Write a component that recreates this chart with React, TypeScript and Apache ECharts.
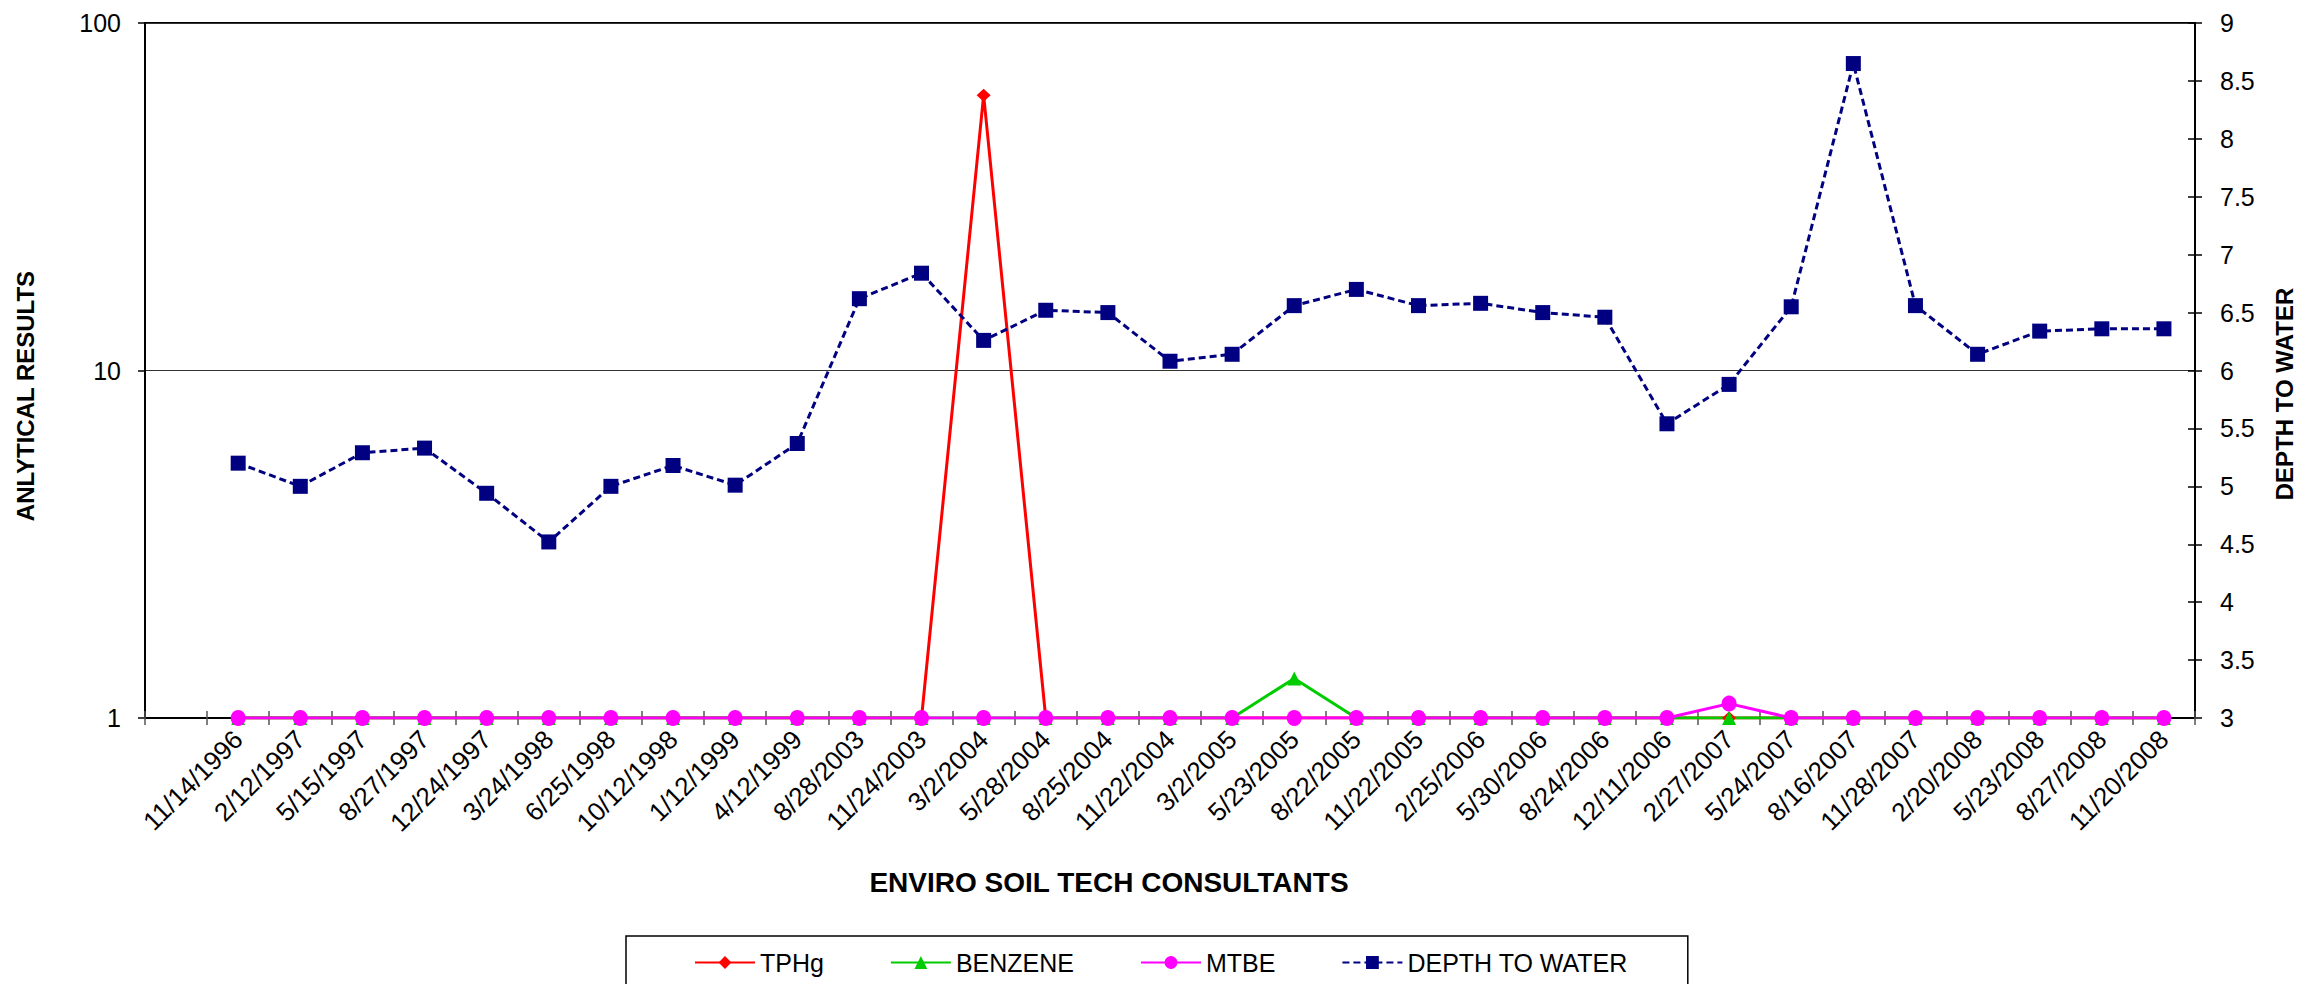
import React, { useEffect, useRef } from 'react';
import * as echarts from 'echarts';

const dates = ['', '11/14/1996', '2/12/1997', '5/15/1997', '8/27/1997', '12/24/1997', '3/24/1998', '6/25/1998', '10/12/1998', '1/12/1999', '4/12/1999', '8/28/2003', '11/24/2003', '3/2/2004', '5/28/2004', '8/25/2004', '11/22/2004', '3/2/2005', '5/23/2005', '8/22/2005', '11/22/2005', '2/25/2006', '5/30/2006', '8/24/2006', '12/11/2006', '2/27/2007', '5/24/2007', '8/16/2007', '11/28/2007', '2/20/2008', '5/23/2008', '8/27/2008', '11/20/2008'];

const tphg = [null, 1, 1, 1, 1, 1, 1, 1, 1, 1, 1, 1, 1, 62, 1, 1, 1, 1, 1, 1, 1, 1, 1, 1, 1, 1, 1, 1, 1, 1, 1, 1, 1];
const benzene = [null, 1, 1, 1, 1, 1, 1, 1, 1, 1, 1, 1, 1, 1, 1, 1, 1, 1, 1.3, 1, 1, 1, 1, 1, 1, 1, 1, 1, 1, 1, 1, 1, 1];
const mtbe = [null, 1, 1, 1, 1, 1, 1, 1, 1, 1, 1, 1, 1, 1, 1, 1, 1, 1, 1, 1, 1, 1, 1, 1, 1, 1.1, 1, 1, 1, 1, 1, 1, 1];
const depth = [null, 5.2, 5.0, 5.29, 5.33, 4.94, 4.52, 5.0, 5.18, 5.01, 5.37, 6.62, 6.84, 6.26, 6.52, 6.5, 6.08, 6.14, 6.56, 6.7, 6.56, 6.58, 6.5, 6.46, 5.54, 5.88, 6.55, 8.65, 6.56, 6.14, 6.34, 6.36, 6.36];

const FONT = "Arial, 'Liberation Sans', sans-serif";

export default function App() {
  const ref = useRef<HTMLDivElement>(null);
  useEffect(() => {
    if (!ref.current) return;
    const chart = echarts.init(ref.current, undefined, { renderer: 'svg' });
    const option: any = {
      animation: false,
      backgroundColor: '#fff',
      textStyle: { fontFamily: FONT },
      grid: {
        left: 145, right: 109, top: 23, bottom: 266,
        show: true, borderColor: '#000', borderWidth: 2, backgroundColor: 'transparent',
      },
      xAxis: [
        {
          type: 'category', data: dates, position: 'bottom', boundaryGap: true,
          axisLine: { onZero: false, lineStyle: { color: '#000', width: 2 } },
          axisTick: { show: true, inside: false, length: 7, interval: 0, lineStyle: { color: '#555', width: 1.5 } },
          axisLabel: { interval: 0, rotate: 45, margin: 17, fontSize: 26, color: '#000', fontFamily: FONT },
          splitLine: { show: false },
        },
        {
          type: 'category', data: dates, position: 'bottom', boundaryGap: true,
          axisLine: { show: false, onZero: false },
          axisTick: { show: true, inside: true, length: 7, interval: 0, lineStyle: { color: '#555', width: 1.5 } },
          axisLabel: { show: false },
          splitLine: { show: false },
        },
      ],
      yAxis: [
        {
          type: 'log', logBase: 10, min: 1, max: 100, position: 'left',
          axisLine: { show: true, lineStyle: { color: '#000', width: 2 } },
          axisTick: { show: true, inside: false, length: 7, lineStyle: { color: '#000', width: 1.5 } },
          axisLabel: { margin: 24, fontSize: 25, color: '#000', fontFamily: FONT },
          splitLine: { show: true, lineStyle: { color: '#333', width: 1.2 } },
          minorTick: { show: false }, minorSplitLine: { show: false },
        },
        {
          type: 'value', min: 3, max: 9, interval: 0.5, position: 'right',
          axisLine: { show: true, lineStyle: { color: '#000', width: 2 } },
          axisTick: { show: true, inside: false, length: 7, lineStyle: { color: '#000', width: 1.5 } },
          axisLabel: { margin: 25, fontSize: 25, color: '#000', fontFamily: FONT },
          splitLine: { show: false },
        },
        {
          type: 'value', min: 3, max: 9, interval: 0.5, position: 'right',
          axisLine: { show: false },
          axisTick: { show: true, inside: true, length: 7, lineStyle: { color: '#000', width: 1.5 } },
          axisLabel: { show: false },
          splitLine: { show: false },
        },
      ],
      legend: {
        left: 626, top: 936,
        padding: [14, 60, 40, 68],
        borderColor: '#000', borderWidth: 1.5,
        itemWidth: 60, itemHeight: 16, itemGap: 66,
        textStyle: { fontSize: 25, color: '#000', fontFamily: FONT },
        data: ['TPHg', 'BENZENE', 'MTBE', 'DEPTH TO WATER'],
      },
      series: [
        {
          name: 'TPHg', type: 'line', data: tphg, xAxisIndex: 0, yAxisIndex: 0,
          symbol: 'diamond', symbolSize: [14, 13], showAllSymbol: true,
          lineStyle: { color: '#ff0000', width: 3 }, itemStyle: { color: '#ff0000' },
        },
        {
          name: 'BENZENE', type: 'line', data: benzene, xAxisIndex: 0, yAxisIndex: 0,
          symbol: 'triangle', symbolSize: [14, 14], showAllSymbol: true,
          lineStyle: { color: '#00cc00', width: 3 }, itemStyle: { color: '#00cc00' },
        },
        {
          name: 'MTBE', type: 'line', data: mtbe, xAxisIndex: 0, yAxisIndex: 0,
          symbol: 'circle', symbolSize: [15, 16], showAllSymbol: true,
          lineStyle: { color: '#ff00ff', width: 3 }, itemStyle: { color: '#ff00ff' },
        },
        {
          name: 'DEPTH TO WATER', type: 'line', data: depth, xAxisIndex: 0, yAxisIndex: 1,
          symbol: 'rect', symbolSize: [15, 15], showAllSymbol: true,
          lineStyle: { color: '#000080', width: 3, type: [7, 4] }, itemStyle: { color: '#000080' },
        },
      ],
      graphic: [
        {
          type: 'text', x: 25, y: 396, rotation: Math.PI / 2,
          style: { text: 'ANLYTICAL RESULTS', font: `bold 24px ${FONT}`, fill: '#000', textAlign: 'center', textVerticalAlign: 'middle', align: 'center', verticalAlign: 'middle' },
        },
        {
          type: 'text', x: 2284, y: 394, rotation: Math.PI / 2,
          style: { text: 'DEPTH TO WATER', font: `bold 24px ${FONT}`, fill: '#000', textAlign: 'center', textVerticalAlign: 'middle', align: 'center', verticalAlign: 'middle' },
        },
        {
          type: 'text', x: 1109, y: 882,
          style: { text: 'ENVIRO SOIL TECH CONSULTANTS', font: `bold 28px ${FONT}`, fill: '#000', textAlign: 'center', textVerticalAlign: 'middle', align: 'center', verticalAlign: 'middle' },
        },
      ],
    };
    chart.setOption(option);
    return () => chart.dispose();
  }, []);
  return (
    <div
      ref={ref}
      style={{ position: 'fixed', left: 0, top: 0, width: 2304, height: 984, background: '#fff' }}
    />
  );
}
